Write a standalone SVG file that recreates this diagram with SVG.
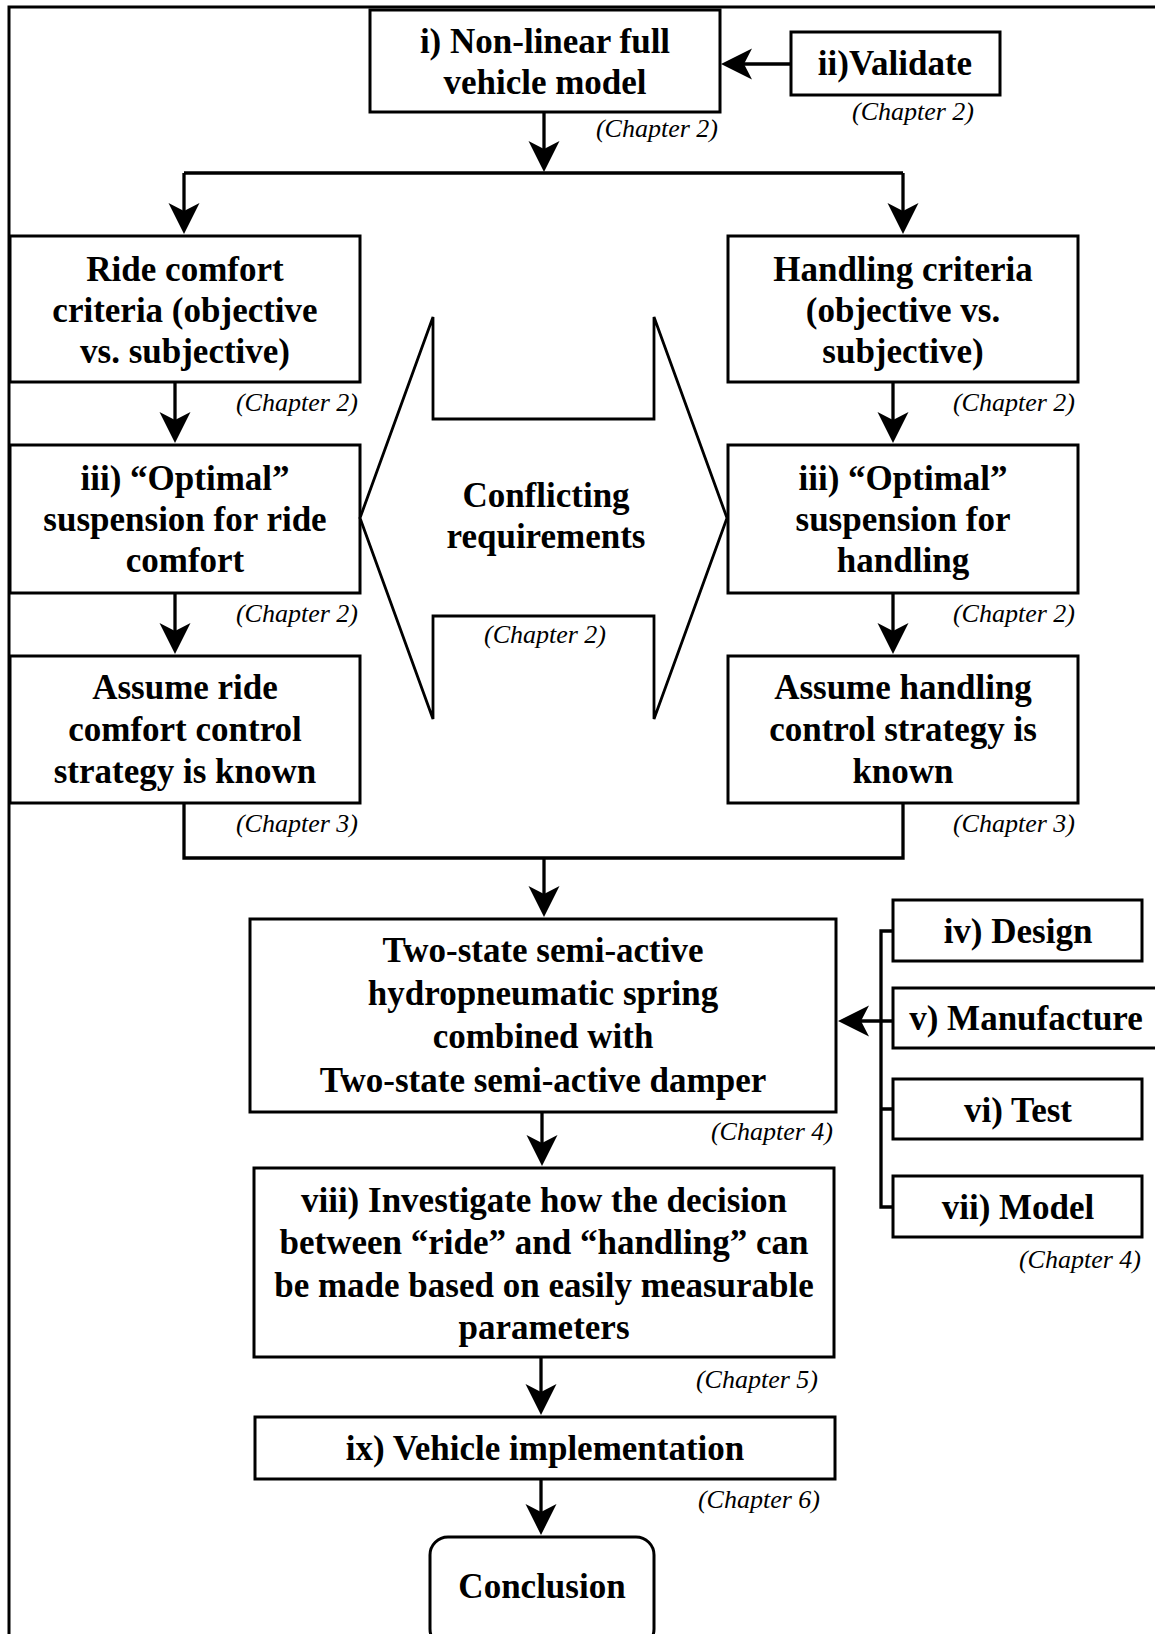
<svg xmlns="http://www.w3.org/2000/svg" width="1155" height="1634" viewBox="0 0 1155 1634">
<style>
.box{fill:#fff;stroke:#000;stroke-width:3}
.t{font-family:"Liberation Serif","Times New Roman",serif;font-weight:bold;font-size:35px;text-anchor:middle;fill:#000}
.ch{font-family:"Liberation Serif","Times New Roman",serif;font-style:italic;font-size:26px;fill:#000}
.r{text-anchor:end}
.m{text-anchor:middle}
.ln{fill:none;stroke:#000;stroke-width:3.3}
.ar{fill:none;stroke:#000;stroke-width:3.3;marker-end:url(#ah)}
.frame{fill:none;stroke:#000;stroke-width:3}
</style>
<defs>
<marker id="ah" markerUnits="userSpaceOnUse" viewBox="-32 -16 34 32" markerWidth="34" markerHeight="32" refX="-10" refY="0" orient="auto" overflow="visible">
<path d="M0,0 L-31,-15.5 L-23,0 L-31,15.5 Z" fill="#000"/>
</marker>
</defs>

<g id="frame">
<path class="frame" d="M9,1634 V7 H1155"/>
</g>

<g id="connectors">
<line class="ar" x1="791" y1="64" x2="731" y2="64"/>
<line class="ar" x1="544" y1="112" x2="544" y2="162"/>
<line class="ln" x1="184" y1="173" x2="903" y2="173"/>
<line class="ar" x1="184" y1="173" x2="184" y2="224"/>
<line class="ar" x1="903" y1="173" x2="903" y2="224"/>
<line class="ar" x1="175" y1="382" x2="175" y2="433"/>
<line class="ar" x1="893" y1="382" x2="893" y2="433"/>
<line class="ar" x1="175" y1="593" x2="175" y2="644"/>
<line class="ar" x1="893" y1="593" x2="893" y2="644"/>
<path class="ln" d="M184,803 V858 H903 V803"/>
<line class="ar" x1="544" y1="858" x2="544" y2="907"/>
<line class="ar" x1="542" y1="1112" x2="542" y2="1156"/>
<line class="ar" x1="541" y1="1357" x2="541" y2="1405"/>
<line class="ar" x1="541" y1="1479" x2="541" y2="1525"/>
<path class="ln" d="M893,931 H881 V1207 H893 M881,1109 H893"/>
<line class="ar" x1="893" y1="1021" x2="848" y2="1021"/>
</g>

<g id="node-i">
<rect class="box" x="370" y="10" width="350" height="102"/>
<text class="t" x="545" y="53">i) Non-linear full</text>
<text class="t" x="545" y="94">vehicle model</text>
<text class="ch r" x="718" y="137">(Chapter 2)</text>
</g>

<g id="node-ii">
<rect class="box" x="791" y="32" width="209" height="63"/>
<text class="t" x="895" y="75">ii)Validate</text>
<text class="ch m" x="913" y="120">(Chapter 2)</text>
</g>

<g id="node-ride">
<rect class="box" x="10" y="236" width="350" height="146"/>
<text class="t" x="185" y="281">Ride comfort</text>
<text class="t" x="185" y="322">criteria (objective</text>
<text class="t" x="185" y="363">vs. subjective)</text>
<text class="ch r" x="358" y="411">(Chapter 2)</text>
</g>

<g id="node-handling">
<rect class="box" x="728" y="236" width="350" height="146"/>
<text class="t" x="903" y="281">Handling criteria</text>
<text class="t" x="903" y="322">(objective vs.</text>
<text class="t" x="903" y="363">subjective)</text>
<text class="ch r" x="1075" y="411">(Chapter 2)</text>
</g>

<g id="node-opt-ride">
<rect class="box" x="10" y="445" width="350" height="148"/>
<text class="t" x="185" y="490">iii) “Optimal”</text>
<text class="t" x="185" y="531">suspension for ride</text>
<text class="t" x="185" y="572">comfort</text>
<text class="ch r" x="358" y="622">(Chapter 2)</text>
</g>

<g id="node-opt-handling">
<rect class="box" x="728" y="445" width="350" height="148"/>
<text class="t" x="903" y="490">iii) “Optimal”</text>
<text class="t" x="903" y="531">suspension for</text>
<text class="t" x="903" y="572">handling</text>
<text class="ch r" x="1075" y="622">(Chapter 2)</text>
</g>

<g id="node-conflict">
<path fill="#fff" stroke="#000" stroke-width="2.8" stroke-linejoin="miter" d="M360,518 L433,317 V419 H654 V317 L727,518 L654,719 V616 H433 V719 Z"/>
<text class="t" x="546" y="507">Conflicting</text>
<text class="t" x="546" y="548">requirements</text>
<text class="ch m" x="545" y="643">(Chapter 2)</text>
</g>

<g id="node-assume-ride">
<rect class="box" x="10" y="656" width="350" height="147"/>
<text class="t" x="185" y="699">Assume ride</text>
<text class="t" x="185" y="741">comfort control</text>
<text class="t" x="185" y="783">strategy is known</text>
<text class="ch r" x="358" y="832">(Chapter 3)</text>
</g>

<g id="node-assume-handling">
<rect class="box" x="728" y="656" width="350" height="147"/>
<text class="t" x="903" y="699">Assume handling</text>
<text class="t" x="903" y="741">control strategy is</text>
<text class="t" x="903" y="783">known</text>
<text class="ch r" x="1075" y="832">(Chapter 3)</text>
</g>

<g id="node-spring">
<rect class="box" x="250" y="919" width="586" height="193"/>
<text class="t" x="543" y="962">Two-state semi-active</text>
<text class="t" x="543" y="1005">hydropneumatic spring</text>
<text class="t" x="543" y="1048">combined with</text>
<text class="t" x="543" y="1092">Two-state semi-active damper</text>
<text class="ch r" x="833" y="1140">(Chapter 4)</text>
</g>

<g id="node-iv">
<rect class="box" x="893" y="900" width="249" height="61"/>
<text class="t" x="1018" y="943">iv) Design</text>
</g>

<g id="node-v">
<rect class="box" x="893" y="988" width="270" height="60"/>
<text class="t" x="1026" y="1030">v) Manufacture</text>
</g>

<g id="node-vi">
<rect class="box" x="893" y="1079" width="249" height="60"/>
<text class="t" x="1018" y="1122">vi) Test</text>
</g>

<g id="node-vii">
<rect class="box" x="893" y="1176" width="249" height="61"/>
<text class="t" x="1018" y="1219">vii) Model</text>
<text class="ch r" x="1141" y="1268">(Chapter 4)</text>
</g>

<g id="node-viii">
<rect class="box" x="254" y="1168" width="580" height="189"/>
<text class="t" x="544" y="1212">viii) Investigate how the decision</text>
<text class="t" x="544" y="1254">between “ride” and “handling” can</text>
<text class="t" x="544" y="1297">be made based on easily measurable</text>
<text class="t" x="544" y="1339">parameters</text>
<text class="ch r" x="818" y="1388">(Chapter 5)</text>
</g>

<g id="node-ix">
<rect class="box" x="255" y="1417" width="580" height="62"/>
<text class="t" x="545" y="1460">ix) Vehicle implementation</text>
<text class="ch r" x="820" y="1508">(Chapter 6)</text>
</g>

<g id="node-conclusion">
<rect class="box" x="430" y="1537" width="224" height="110" rx="18" ry="18"/>
<text class="t" x="542" y="1598">Conclusion</text>
</g>
</svg>
